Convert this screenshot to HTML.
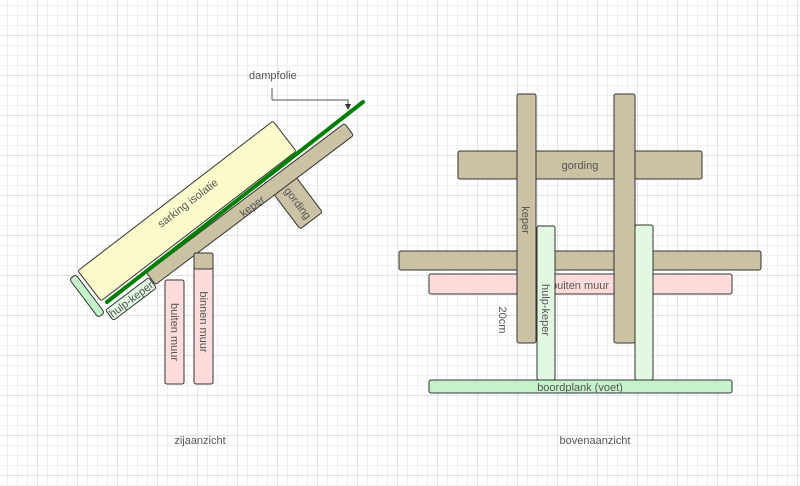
<!DOCTYPE html>
<html><head><meta charset="utf-8"><style>
html,body{margin:0;padding:0;background:#fff;}
body{width:800px;height:486px;overflow:hidden;
background-image:
linear-gradient(to right,#e2e2e2 1px,transparent 1px),
linear-gradient(to bottom,#e2e2e2 1px,transparent 1px),
linear-gradient(to right,#efefef 1px,transparent 1px),
linear-gradient(to bottom,#efefef 1px,transparent 1px);
background-size:40px 40px,40px 40px,10px 10px,10px 10px;
background-position:37px 0,0 35px,7px 0,0 5px;}
svg{position:absolute;left:0;top:0;}
text{font-family:"Liberation Sans",sans-serif;font-size:11px;fill:#555;}
</style></head><body>
<svg width="800" height="486" viewBox="0 0 800 486">
<g stroke="#333" stroke-width="1">
<!-- side view -->
<g transform="translate(298,203) rotate(53)"><rect x="-22" y="-14" width="44" height="28" rx="2" fill="#cbc2a4"/></g>
<g transform="translate(187,211) rotate(-37.5)"><rect x="-123" y="-19" width="246" height="38" rx="2" fill="#fbfacb"/></g>
<g transform="translate(250,204) rotate(-37)"><rect x="-124" y="-7.5" width="248" height="15" rx="2" fill="#cbc2a4"/></g>
<g transform="translate(131,299) rotate(-37)"><rect x="-27" y="-6.5" width="54" height="13" rx="2" fill="#e1f8e1"/></g>
<g transform="translate(87,296) rotate(53)"><rect x="-24" y="-4" width="48" height="8" rx="3" fill="#c4f2c9"/></g>
<rect x="165" y="280" width="19" height="104" rx="2" fill="#ffdcdc"/>
<rect x="194" y="253" width="19" height="131" rx="2" fill="#ffdcdc"/>
<rect x="194" y="253" width="19" height="16" rx="2" fill="#cbc2a4"/>
</g>
<line x1="107" y1="302" x2="363" y2="102" stroke="#008000" stroke-width="4" stroke-linecap="round"/>
<path d="M272 88 V99 Q272 100 273 100 H348 V104" fill="none" stroke="#555" stroke-width="1"/>
<path d="M345 104 L351 104 L348 110 Z" fill="#333"/>
<text x="249" y="79">dampfolie</text>
<text transform="translate(190,206) rotate(-37.5)" text-anchor="middle">sarking isolatie</text>
<text transform="translate(252,206) rotate(-37)" text-anchor="middle" dy="4">keper</text>
<text transform="translate(298,203) rotate(53)" text-anchor="middle" dy="4">gording</text>
<text transform="translate(131,299) rotate(-37)" text-anchor="middle" dy="4">hulp-keper</text>
<text transform="translate(175,332) rotate(90)" text-anchor="middle" dy="4">buiten muur</text>
<text transform="translate(204,322) rotate(90)" text-anchor="middle" dy="4">binnen muur</text>
<text x="200" y="444" text-anchor="middle">zijaanzicht</text>
<!-- top view -->
<g stroke="#333" stroke-width="1">
<rect x="458" y="151" width="244" height="28" rx="2" fill="#cbc2a4"/>
<rect x="399" y="251" width="362" height="19" rx="2" fill="#cbc2a4"/>
<rect x="429" y="274" width="303" height="20" rx="2" fill="#ffdcdc"/>
</g>
<text x="580" y="289" text-anchor="middle">buiten muur</text>
<g stroke="#333" stroke-width="1">
<rect x="517" y="94" width="19" height="249" rx="2" fill="#cbc2a4"/>
<rect x="614" y="94" width="21" height="249" rx="2" fill="#cbc2a4"/>
<rect x="537" y="226" width="18" height="154" rx="2" fill="#e1f8e1"/>
<rect x="635" y="225" width="18" height="155" rx="2" fill="#e1f8e1"/>
<rect x="429" y="380" width="303" height="13" rx="2" fill="#c4f2c9"/>
</g>
<text x="580" y="169" text-anchor="middle">gording</text>
<text transform="translate(526,220) rotate(90)" text-anchor="middle" dy="4">keper</text>
<text transform="translate(546,310) rotate(90)" text-anchor="middle" dy="4">hulp-keper</text>
<text transform="translate(503,320) rotate(90)" text-anchor="middle" dy="4">20cm</text>
<text x="580" y="391" text-anchor="middle">boordplank (voet)</text>
<text x="595" y="444" text-anchor="middle">bovenaanzicht</text>
</svg>
</body></html>
